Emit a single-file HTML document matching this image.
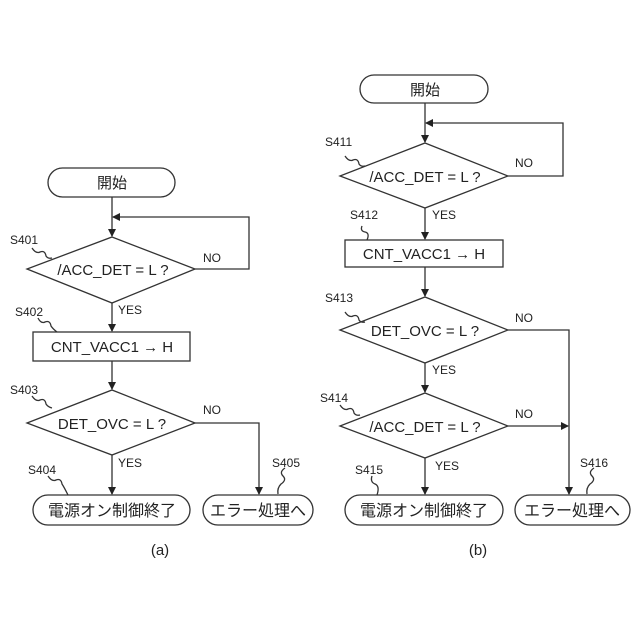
<!DOCTYPE html>
<html><head><meta charset="utf-8"><style>
html,body{margin:0;padding:0;background:#fff;width:640px;height:640px;overflow:hidden}
svg text{font-family:"Liberation Sans","Noto Sans CJK JP",sans-serif;fill:#222}
</style></head><body>
<svg width="640" height="640" viewBox="0 0 640 640" xmlns="http://www.w3.org/2000/svg">
<defs><marker id="a" markerWidth="8" markerHeight="8" refX="7" refY="4" orient="auto" markerUnits="userSpaceOnUse"><path d="M0,0 L8,4 L0,8 z" fill="#222"/></marker></defs>
<g stroke="#333" stroke-width="1.3" fill="none">
<!-- (a) -->
<rect x="48" y="168" width="127" height="29" rx="14.5"/>
<line x1="112" y1="197" x2="112" y2="236" marker-end="url(#a)"/>
<polyline points="195,269 249,269 249,217 113,217" marker-end="url(#a)"/>
<polygon points="112,237 195,269 112,303 27,269"/>
<line x1="112" y1="303" x2="112" y2="331" marker-end="url(#a)"/>
<rect x="33" y="332" width="157" height="29"/>
<line x1="112" y1="361" x2="112" y2="389" marker-end="url(#a)"/>
<polygon points="112,390 195,423 112,455 27,423"/>
<line x1="112" y1="455" x2="112" y2="494" marker-end="url(#a)"/>
<polyline points="195,423 259,423 259,494" marker-end="url(#a)"/>
<rect x="33" y="495" width="157" height="30" rx="15"/>
<rect x="203" y="495" width="110" height="30" rx="15"/>
<path d="M32,248 q4,6 8,4 q5,-2 6,4 q2,3 6,2"/>
<path d="M38,318 q3,6 7,4 q5,-2 6,4 q2,3 6,6"/>
<path d="M32,396 q4,6 8,4 q5,-2 6,4 q2,3 6,4"/>
<path d="M48,476 q4,6 8,4 q5,-2 6,4 q2,3 6,11"/>
<path d="M285,468 q-6,4 -2,8 q4,4 -2,8 q-4,4 -3,10"/>
<!-- (b) -->
<rect x="360" y="75" width="128" height="28" rx="14"/>
<line x1="425" y1="103" x2="425" y2="142" marker-end="url(#a)"/>
<polyline points="508,176 563,176 563,123 426,123" marker-end="url(#a)"/>
<polygon points="425,143 508,176 425,208 340,176"/>
<line x1="425" y1="208" x2="425" y2="239" marker-end="url(#a)"/>
<rect x="345" y="240" width="158" height="27"/>
<line x1="425" y1="267" x2="425" y2="296" marker-end="url(#a)"/>
<polygon points="425,297 508,330 425,363 340,330"/>
<polyline points="508,330 569,330 569,494" marker-end="url(#a)"/>
<line x1="425" y1="363" x2="425" y2="392" marker-end="url(#a)"/>
<polygon points="425,393 508,426 425,458 340,426"/>
<line x1="508" y1="426" x2="568" y2="426" marker-end="url(#a)"/>
<line x1="425" y1="458" x2="425" y2="494" marker-end="url(#a)"/>
<rect x="345" y="495" width="158" height="30" rx="15"/>
<rect x="515" y="495" width="115" height="30" rx="15"/>
<path d="M345,156 q4,6 8,4 q5,-2 6,4 q2,3 6,2"/>
<path d="M362,226 q-2,5 3,6 q5,1 2,8"/>
<path d="M345,312 q4,6 8,4 q5,-2 6,4 q2,3 6,2"/>
<path d="M340,405 q4,6 8,4 q5,-2 6,4 q2,3 6,2"/>
<path d="M372,476 q-2,6 3,8 q5,2 2,11"/>
<path d="M594,468 q-6,4 -2,8 q4,4 -2,8 q-4,4 -3,10"/>
</g>
<g font-size="15">
<text x="112" y="188" text-anchor="middle">開始</text>
<text x="113" y="275" text-anchor="middle">/ACC_DET = L ?</text>
<text x="112" y="352" text-anchor="middle">CNT_VACC1 → H</text>
<text x="112" y="429" text-anchor="middle">DET_OVC = L ?</text>
<text x="112" y="516" text-anchor="middle" font-size="16">電源オン制御終了</text>
<text x="258" y="516" text-anchor="middle" font-size="16">エラー処理へ</text>
<text x="425" y="95" text-anchor="middle">開始</text>
<text x="425" y="182" text-anchor="middle">/ACC_DET = L ?</text>
<text x="424" y="259" text-anchor="middle">CNT_VACC1 → H</text>
<text x="425" y="336" text-anchor="middle">DET_OVC = L ?</text>
<text x="425" y="432" text-anchor="middle">/ACC_DET = L ?</text>
<text x="424" y="516" text-anchor="middle" font-size="16">電源オン制御終了</text>
<text x="572" y="516" text-anchor="middle" font-size="16">エラー処理へ</text>
</g>
<g font-size="12">
<text x="10" y="244">S401</text>
<text x="15" y="316">S402</text>
<text x="10" y="394">S403</text>
<text x="28" y="474">S404</text>
<text x="272" y="467">S405</text>
<text x="203" y="262">NO</text>
<text x="118" y="314">YES</text>
<text x="203" y="414">NO</text>
<text x="118" y="467">YES</text>
<text x="325" y="146">S411</text>
<text x="350" y="219">S412</text>
<text x="325" y="302">S413</text>
<text x="320" y="402">S414</text>
<text x="355" y="474">S415</text>
<text x="580" y="467">S416</text>
<text x="515" y="167">NO</text>
<text x="432" y="219">YES</text>
<text x="515" y="322">NO</text>
<text x="432" y="374">YES</text>
<text x="515" y="418">NO</text>
<text x="435" y="470">YES</text>
</g>
<text x="160" y="555" font-size="15" text-anchor="middle">(a)</text>
<text x="478" y="555" font-size="15" text-anchor="middle">(b)</text>
</svg>
</body></html>
